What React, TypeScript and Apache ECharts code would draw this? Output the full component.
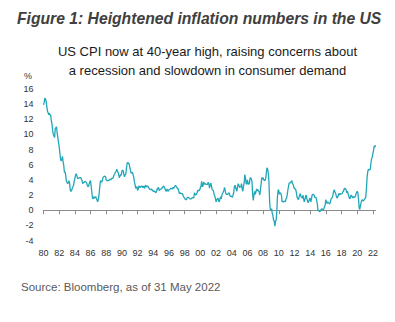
import React, { useEffect, useRef } from "react";
import * as echarts from "echarts";

const startYear = 1980;
// US CPI YoY %, monthly, Jan 1980 - May 2022
const cpi1980s = [
  13.9, 14.2, 14.8, 14.7, 14.4, 14.4, 13.1, 12.9, 12.6, 12.8, 12.6, 12.5,
  11.8, 11.4, 10.5, 10.0, 9.8, 9.6, 10.8, 10.8, 11.0, 10.1, 9.6, 8.9,
  8.4, 7.6, 6.8, 6.5, 6.7, 7.1, 6.4, 5.9, 5.0, 5.1, 4.6, 3.8,
  3.7, 3.5, 3.6, 3.9, 3.5, 2.6, 2.5, 2.6, 2.9, 2.9, 3.3, 3.8,
  4.2, 4.6, 4.8, 4.6, 4.2, 4.2, 4.2, 4.3, 4.3, 4.3, 4.1, 3.9,
  3.5, 3.5, 3.7, 3.7, 3.8, 3.8, 3.6, 3.3, 3.1, 3.2, 3.5, 3.8,
  3.9, 3.1, 2.3, 1.6, 1.5, 1.8, 1.6, 1.6, 1.8, 1.5, 1.3, 1.1,
  1.5, 2.1, 3.0, 3.8, 3.9, 3.7, 3.9, 4.3, 4.4, 4.5, 4.5, 4.4,
  4.0, 3.9, 3.9, 3.9, 3.9, 4.0, 4.1, 4.0, 4.2, 4.2, 4.2, 4.4,
  4.7, 4.8, 5.0, 5.1, 5.4, 5.2, 5.0, 4.7, 4.3, 4.5, 4.7, 4.6,
];
const cpi1990s = [
  5.2, 5.3, 5.2, 4.7, 4.4, 4.7, 4.8, 5.6, 6.2, 6.3, 6.3, 6.1,
  5.7, 5.3, 4.9, 4.9, 5.0, 4.7, 4.4, 3.8, 3.4, 2.9, 3.0, 3.1,
  2.6, 2.8, 3.2, 3.2, 3.0, 3.1, 3.2, 3.1, 3.0, 3.2, 3.0, 2.9,
  3.3, 3.2, 3.1, 3.2, 3.2, 3.0, 2.8, 2.8, 2.7, 2.8, 2.7, 2.7,
  2.5, 2.5, 2.5, 2.4, 2.3, 2.5, 2.8, 2.9, 3.0, 2.6, 2.7, 2.7,
  2.8, 2.9, 2.9, 3.1, 3.2, 3.0, 2.8, 2.6, 2.5, 2.8, 2.6, 2.5,
  2.7, 2.7, 2.8, 2.9, 2.9, 2.8, 3.0, 2.9, 3.0, 3.0, 3.3, 3.3,
  3.0, 3.0, 2.8, 2.5, 2.2, 2.3, 2.2, 2.2, 2.2, 2.1, 1.8, 1.7,
  1.6, 1.4, 1.4, 1.4, 1.7, 1.7, 1.7, 1.6, 1.5, 1.5, 1.5, 1.6,
  1.7, 1.6, 1.7, 2.3, 2.1, 2.0, 2.1, 2.3, 2.6, 2.6, 2.6, 2.7,
];
const cpi2000s = [
  2.7, 3.2, 3.8, 3.1, 3.2, 3.7, 3.7, 3.4, 3.5, 3.4, 3.4, 3.4,
  3.7, 3.5, 2.9, 3.3, 3.6, 3.2, 2.7, 2.7, 2.6, 2.1, 1.9, 1.6,
  1.1, 1.1, 1.5, 1.6, 1.2, 1.1, 1.5, 1.8, 1.5, 2.0, 2.2, 2.4,
  2.6, 3.0, 3.0, 2.2, 2.1, 2.1, 2.1, 2.2, 2.3, 2.0, 1.8, 1.9,
  1.9, 1.7, 1.7, 2.3, 3.1, 3.3, 3.0, 2.7, 2.5, 3.2, 3.5, 3.3,
  3.0, 3.0, 3.1, 3.5, 2.8, 2.5, 3.2, 3.6, 4.7, 4.3, 3.5, 3.4,
  4.0, 3.6, 3.4, 3.5, 4.2, 4.3, 4.1, 3.8, 2.1, 1.3, 2.0, 2.5,
  2.1, 2.4, 2.8, 2.6, 2.7, 2.7, 2.4, 2.0, 2.8, 3.5, 4.3, 4.1,
  4.3, 4.0, 4.0, 3.9, 4.2, 5.0, 5.6, 5.4, 4.9, 3.7, 1.1, 0.1,
  0.0, 0.2, -0.4, -0.7, -1.3, -1.4, -2.1, -1.5, -1.3, -0.2, 1.8, 2.7,
];
const cpi2010s = [
  2.6, 2.1, 2.3, 2.2, 2.0, 1.1, 1.2, 1.1, 1.1, 1.2, 1.1, 1.5,
  1.6, 2.1, 2.7, 3.2, 3.6, 3.6, 3.6, 3.8, 3.9, 3.5, 3.4, 3.0,
  2.9, 2.9, 2.7, 2.3, 1.7, 1.7, 1.4, 1.7, 2.0, 2.2, 1.8, 1.7,
  1.6, 2.0, 1.5, 1.1, 1.4, 1.8, 2.0, 1.5, 1.2, 1.0, 1.2, 1.5,
  1.6, 1.1, 1.5, 2.0, 2.1, 2.1, 2.0, 1.7, 1.7, 1.7, 1.3, 0.8,
  -0.1, 0.0, -0.1, -0.2, 0.0, 0.1, 0.2, 0.2, 0.0, 0.2, 0.5, 0.7,
  1.4, 1.0, 0.9, 1.1, 1.0, 1.0, 0.8, 1.1, 1.5, 1.6, 1.7, 2.1,
  2.5, 2.7, 2.4, 2.2, 1.9, 1.6, 1.7, 1.9, 2.2, 2.0, 2.2, 2.1,
  2.1, 2.2, 2.4, 2.5, 2.8, 2.9, 2.9, 2.7, 2.3, 2.5, 2.2, 1.9,
  1.6, 1.5, 1.9, 2.0, 1.8, 1.6, 1.8, 1.7, 1.7, 1.8, 2.1, 2.3,
];
const cpi2020s = [
  2.5, 2.3, 1.5, 0.3, 0.1, 0.6, 1.0, 1.3, 1.4, 1.2, 1.2, 1.4,
  1.4, 1.7, 2.6, 4.2, 5.0, 5.4, 5.4, 5.3, 5.4, 6.2, 6.8, 7.0,
  7.5, 7.9, 8.5, 8.3, 8.6,
];

const values = [...cpi1980s, ...cpi1990s, ...cpi2000s, ...cpi2010s, ...cpi2020s];
const categories = values.map((_, i) => {
  const y = startYear + Math.floor(i / 12);
  const m = (i % 12) + 1;
  return `${y}-${String(m).padStart(2, "0")}`;
});
const yTicks = { min: -4, max: 16, interval: 2 };

const titleText = "Figure 1: Heightened inflation numbers in the US";
const subtitleText =
  "US CPI now at 40-year high, raising concerns about\na recession and slowdown in consumer demand";
const sourceText = "Source: Bloomberg, as of 31 May 2022";

const FONT = "'Liberation Sans', Arial, sans-serif";

export default function App() {
  const ref = useRef<HTMLDivElement>(null);
  useEffect(() => {
    if (!ref.current) return;
    const chart = echarts.init(ref.current, undefined, { renderer: "svg" });
    const yrLabel = (v: string) => v.slice(2, 4);
    chart.setOption({
      animation: false,
      backgroundColor: "#ffffff",
      textStyle: { fontFamily: FONT },
      graphic: [
        {
          type: "text",
          left: 17,
          top: 10.5,
          style: {
            text: titleText,
            font: `italic bold 15.7px ${FONT}`,
            fill: "#404040",
          },
        },
        {
          type: "text",
          x: 207.5,
          y: 42,
          style: {
            text: subtitleText,
            font: `13px ${FONT}`,
            fill: "#1a1a1a",
            align: "center",
            lineHeight: 19,
          },
        },
        {
          type: "text",
          x: 32,
          y: 76,
          style: {
            text: "%",
            font: `9px ${FONT}`,
            fill: "#333333",
            align: "right",
            verticalAlign: "middle",
          },
        },
        {
          type: "text",
          x: 21,
          y: 287,
          style: {
            text: sourceText,
            font: `11.5px ${FONT}`,
            fill: "#595959",
            verticalAlign: "middle",
          },
        },
      ],
      grid: { left: 43.5, right: 19.5, top: 89, bottom: 81.5, containLabel: false },
      xAxis: [
        {
          type: "category",
          data: categories,
          boundaryGap: false,
          position: "bottom",
          axisLine: { show: true, onZero: true, lineStyle: { color: "#8c8c8c", width: 1 } },
          axisTick: { show: true, interval: 23, length: 4, lineStyle: { color: "#8c8c8c" } },
          axisLabel: { show: false },
          splitLine: { show: false },
        },
        {
          type: "category",
          data: categories,
          boundaryGap: false,
          position: "bottom",
          axisLine: { show: false, onZero: false },
          axisTick: { show: false },
          axisLabel: {
            show: true,
            interval: 23,
            margin: 8,
            fontSize: 9,
            color: "#333333",
            fontFamily: FONT,
            formatter: yrLabel,
          },
          splitLine: { show: false },
        },
      ],
      yAxis: {
        type: "value",
        min: yTicks.min,
        max: yTicks.max,
        interval: yTicks.interval,
        axisLine: { show: false },
        axisTick: { show: false },
        splitLine: { show: false },
        axisLabel: { margin: 10, fontSize: 9, color: "#333333", fontFamily: FONT },
      },
      series: [
        {
          type: "line",
          xAxisIndex: 0,
          data: values,
          showSymbol: false,
          symbol: "none",
          lineStyle: { color: "#22a7b8", width: 1.3 },
        },
      ],
    });
    return () => chart.dispose();
  }, []);
  return (
    <div
      ref={ref}
      style={{ position: "fixed", left: 0, top: 0, width: 395, height: 322 }}
    />
  );
}
